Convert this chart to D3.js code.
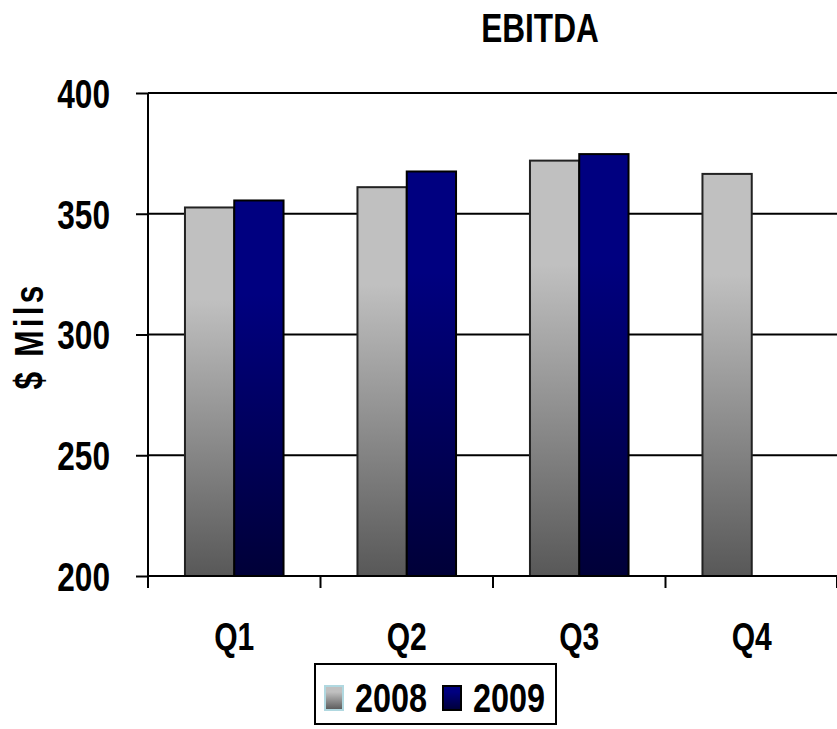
<!DOCTYPE html>
<html>
<head>
<meta charset="utf-8">
<script src="https://cdn.jsdelivr.net/npm/d3@7"></script>
<style>
  body { margin: 0; background: #fff; }
  svg text { font-family: "Liberation Sans Narrow", "Arial Narrow", "Liberation Sans", Arial, sans-serif; font-weight: bold; fill: #000; }
</style>
</head>
<body>
<svg id="chart" width="837" height="729"></svg>
<script>
var quarters = ["Q1", "Q2", "Q3", "Q4"];
var seriesNames = ["2008", "2009"];
var values2008 = [352.6, 361.0, 372.0, 366.5];
var values2009 = [355.5, 367.5, 374.7, null];
var yTicks = [200, 250, 300, 350, 400];

var svg = d3.select("#chart");
var plotLeft = 148, plotRight = 838, plotTop = 93, plotBottom = 576;

var x = d3.scaleBand().domain(quarters).range([plotLeft, plotRight]);
var xs = d3.scaleBand().domain(seriesNames)
    .range([x.bandwidth() * 3 / 14, x.bandwidth() * 11 / 14]);
var y = d3.scaleLinear().domain([200, 400]).range([plotBottom, plotTop]);

// squeeze the wide fallback font so it looks like a narrow face
function narrow(sel) {
    sel.each(function() {
        let w = this.getComputedTextLength();
        d3.select(this).attr("textLength", w * 0.79).attr("lengthAdjust", "spacingAndGlyphs");
    });
}

// gradients
var defs = svg.append("defs");
function grad(id, c1, c2) {
    let g = defs.append("linearGradient").attr("id", id)
        .attr("x1", 0).attr("y1", 0).attr("x2", 0).attr("y2", 1);
    g.append("stop").attr("offset", "0%").attr("stop-color", c1);
    g.append("stop").attr("offset", "25%").attr("stop-color", c1);
    g.append("stop").attr("offset", "100%").attr("stop-color", c2);
}
grad("g2008", "#c0c0c0", "#585858");
grad("g2009", "#000080", "#000038");
var fills = { "2008": "url(#g2008)", "2009": "url(#g2009)" };

// gridlines
svg.append("g").selectAll("line")
    .data(yTicks.slice(1))
    .enter().append("line")
    .attr("x1", plotLeft).attr("x2", plotRight)
    .attr("y1", function(d) { return y(d); })
    .attr("y2", function(d) { return y(d); })
    .attr("stroke", "#000").attr("stroke-width", 2);

// bars
var rows = quarters.map(function(q, i) {
    return { q: q, vals: [
        { s: "2008", v: values2008[i] },
        { s: "2009", v: values2009[i] }
    ].filter(function(d) { return d.v != null; }) };
});
var groups = svg.append("g").selectAll("g")
    .data(rows).enter().append("g")
    .attr("transform", function(d) { return `translate(${x(d.q)},0)`; });
groups.selectAll("rect")
    .data(function(d) { return d.vals; })
    .enter().append("rect")
    .attr("x", function(d) { return xs(d.s); })
    .attr("width", xs.bandwidth())
    .attr("y", function(d) { return y(d.v); })
    .attr("height", function(d) { return y(200) - y(d.v); })
    .attr("fill", function(d) { return fills[d.s]; })
    .attr("stroke", function(d) { return d.s === "2008" ? "#222" : "#000"; })
    .attr("stroke-width", 2);

// y axis
var yAxis = svg.append("g")
    .attr("transform", `translate(${plotLeft},0)`)
    .call(d3.axisLeft(y).tickValues(yTicks).tickSize(12).tickPadding(26));
yAxis.select(".domain").attr("stroke-width", 2).attr("d", `M0,${plotTop}V${plotBottom + 12}`);
yAxis.selectAll(".tick line").attr("stroke-width", 2);
yAxis.selectAll("text").attr("font-size", 40).attr("dy", "0.36em").call(narrow);

// x axis
var xAxis = svg.append("g")
    .attr("transform", `translate(0,${plotBottom})`)
    .call(d3.axisBottom(x).tickSize(0).tickPadding(47));
xAxis.select(".domain").attr("stroke-width", 2).attr("d", `M${plotLeft},0H${plotRight}`);
xAxis.selectAll("text").attr("font-size", 38).call(narrow);
xAxis.selectAll(".bound")
    .data(quarters.map(function(q) { return x(q); }).concat([plotRight - 1]))
    .enter().append("line").attr("class", "bound")
    .attr("x1", function(d) { return d; }).attr("x2", function(d) { return d; })
    .attr("y1", 0).attr("y2", 12)
    .attr("stroke", "#000").attr("stroke-width", 2);

// title
svg.append("text").attr("x", 540).attr("y", 42)
    .attr("text-anchor", "middle").attr("font-size", 40)
    .text("EBITDA").call(narrow);

// y label
svg.append("text")
    .attr("transform", "translate(43,336) rotate(-90)")
    .attr("text-anchor", "middle").attr("font-size", 40)
    .attr("letter-spacing", 4)
    .text("$ Mils").call(narrow);

// legend
var legend = svg.append("g").attr("transform", "translate(315,664)");
legend.append("rect").attr("width", 241).attr("height", 60)
    .attr("fill", "#fff").attr("stroke", "#000").attr("stroke-width", 2);
var items = legend.selectAll("g.item")
    .data(seriesNames).enter().append("g").attr("class", "item")
    .attr("transform", function(d, i) { return `translate(${10 + i * 118},0)`; });
items.append("rect")
    .attr("y", 22).attr("width", 18).attr("height", 24)
    .attr("fill", function(d) { return fills[d]; })
    .attr("stroke", function(d) { return d === "2008" ? "#b0d8e0" : "#000"; })
    .attr("stroke-width", 2);
items.append("text").attr("x", 30).attr("y", 48)
    .attr("font-size", 41)
    .text(function(d) { return d; }).call(narrow);
</script>
</body>
</html>
